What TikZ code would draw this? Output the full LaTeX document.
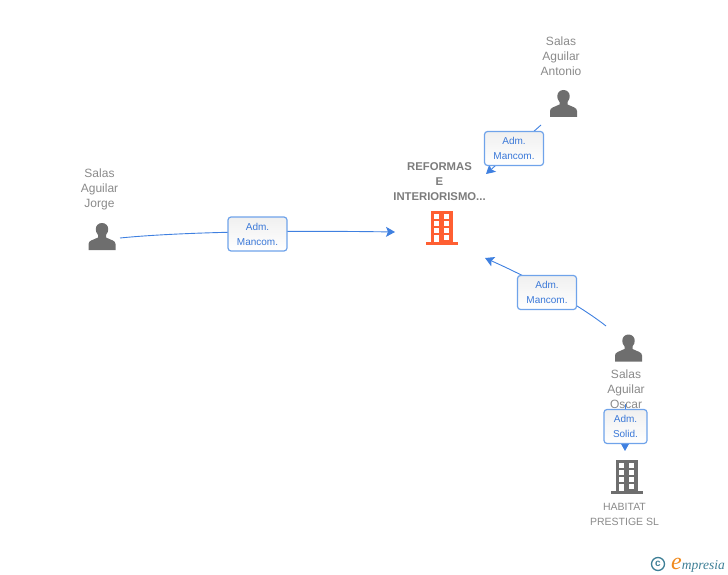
\documentclass[tikz,border=0pt]{standalone}
\usepackage{fontspec}
\setmainfont{Liberation Sans}
\newfontfamily\logofont{Liberation Serif}
\usetikzlibrary{arrows.meta}
\definecolor{linkblue}{HTML}{3F80E0}
\definecolor{badgeline}{HTML}{6FA3EA}
\definecolor{badgetext}{HTML}{3A78D8}
\definecolor{icongrey}{HTML}{6E6E6E}
\definecolor{labelgrey}{HTML}{8A8A8A}
\definecolor{iconred}{HTML}{FF5F32}
\definecolor{logoteal}{HTML}{3E7F96}
\definecolor{logoorange}{HTML}{F08A1E}
\tikzset{
	person/.pic={
		\fill[icongrey] (-13.5,13.5) -- (-13.5,7.5) .. controls (-13.5,4) and (-9,3.5) .. (-4,1) -- (-4,-1.5) .. controls (-6,-3.5) and (-6.2,-6) .. (-6.2,-7.5) .. controls (-6.2,-11) and (-3.5,-13.5) .. (0,-13.5) .. controls (3.5,-13.5) and (6.2,-11) .. (6.2,-7.5) .. controls (6.2,-6) and (6,-3.5) .. (4,-1.5) -- (4,1) .. controls (9,3.5) and (13.5,4) .. (13.5,7.5) -- (13.5,13.5) -- cycle;
	},
	building/.pic={
		\fill[pic actions] (-11,-17) rectangle (11,16);
		\fill[pic actions] (-16,14) rectangle (16,17);
		\foreach \y in {-13.7,-6.7,0} {
			\fill[white] (-7.7,\y) rectangle (-2.7,\y+4.7);
			\fill[white] (2.3,\y) rectangle (7.3,\y+4.7);
		}
		\fill[white] (2.3,7) rectangle (7.3,12);
		\fill[white] (-7.7,7) rectangle (-2.7,14);
	},
	namelabel/.style={align=center, text=labelgrey, inner sep=0pt, font=\fontsize{12}{15}\selectfont},
	mainlabel/.style={namelabel, text=icongrey!90, font=\fontsize{11.3}{15}\selectfont\bfseries},
	companylabel/.style={namelabel, font=\fontsize{10.5}{15}\selectfont},
	badge/.style={draw=badgeline, line width=1.2pt, rounded corners=3pt, top color=black!6, bottom color=white, minimum height=34pt, inner sep=0pt, align=center, text=badgetext, font=\fontsize{10}{15}\selectfont},
	link/.style={draw=linkblue, line width=0.9pt},
	linkend/.style={-{Stealth[length=9pt,width=10pt,inset=2pt]}}
}
\begin{document}
\begin{tikzpicture}[x=1pt, y=-1pt]
	\useasboundingbox (0,0) rectangle (728,575);
	% free ends of the connectors
	\coordinate (jorgeout) at (120,238);
	\coordinate (mainleft) at (395,232);
	\coordinate (antonioout) at (541,125);
	\coordinate (maintop) at (486,174);
	\coordinate (oscarout) at (606,326);
	\coordinate (mainright) at (485,258);
	\coordinate (oscarbelow) at (625,404);
	\coordinate (habitattop) at (625,451);
	% connectors
	\draw[link, linkend] (jorgeout) .. controls (170,233) and (260,230) .. (mainleft);
	\draw[link, linkend] (antonioout) -- (maintop);
	\draw[link, linkend] (oscarout) .. controls (578,304) and (530,278) .. (mainright);
	\draw[link, linkend] (oscarbelow) -- (habitattop);
	% people
	\node[namelabel] (jorge) at (99.5,189) {Salas\\Aguilar\\Jorge};
	\pic at (102,236.5) {person};
	\node[namelabel] (antonio) at (561,56) {Salas\\Aguilar\\Antonio};
	\pic at (563.5,103.5) {person};
	\node[namelabel] (oscar) at (626,389.5) {Salas\\Aguilar\\Oscar};
	\pic at (628.5,348) {person};
	% companies
	\node[mainlabel] (reformas) at (439.5,182) {REFORMAS\\E\\INTERIORISMO...};
	\pic[fill=iconred] at (442,228) {building};
	\pic[fill=icongrey] at (627,477) {building};
	\node[companylabel] (habitat) at (624.5,514) {HABITAT\\PRESTIGE SL};
	% badges
	\node[badge, minimum width=59pt] (jorgebadge) at (257.5,234) {Adm.\\Mancom.};
	\node[badge, minimum width=59pt] (antoniobadge) at (514,148.5) {Adm.\\Mancom.};
	\node[badge, minimum width=59pt] (oscarbadge) at (547,292.5) {Adm.\\Mancom.};
	\node[badge, minimum width=43pt] (solidbadge) at (625.5,426.5) {Adm.\\Solid.};
	% logo
	\node[circle, draw=logoteal, line width=1.3pt, minimum size=13pt, inner sep=0pt, text=logoteal, font=\fontsize{10}{10}\selectfont\bfseries] (copyr) at (658,564) {c};
	\node[anchor=base west, inner sep=0pt, text=logoteal, font=\logofont\itshape\fontsize{13.5}{15}\selectfont] (logo) at (671,569) {\textcolor{logoorange}{\fontsize{24}{24}\selectfont e}mpresia};
\end{tikzpicture}
\end{document}
